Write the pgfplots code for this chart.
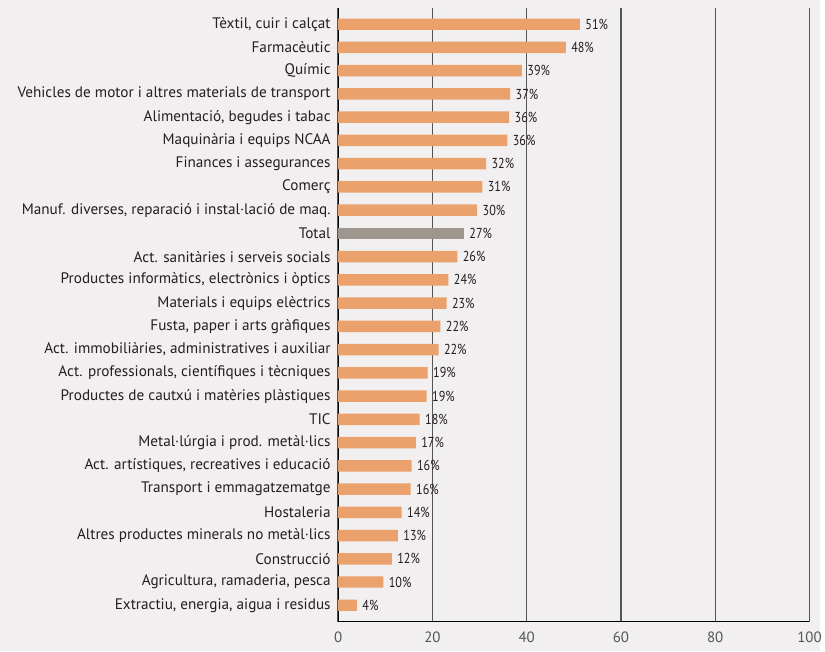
\documentclass[border=0pt]{standalone}
\usepackage{pgfplots}
\pgfplotsset{compat=1.18}
\usepackage{pgfplotstable}
\usepackage{fontspec}
\setmainfont{PT Sans}
\newfontfamily\cond[FakeStretch=0.84]{PT Sans}
\definecolor{bg}{HTML}{F1EFF0}
\definecolor{barO}{HTML}{EBA16C}
\definecolor{barG}{HTML}{9E958D}
\definecolor{gridc}{HTML}{555555}
\definecolor{txt}{HTML}{231F20}

\pgfplotstableread[col sep=comma]{
y,x,lab
0,51.3,51
1,48.3,48
2,39.0,39
3,36.5,37
4,36.3,36
5,35.9,36
6,31.4,32
7,30.6,31
8,29.5,30
10,25.3,26
11,23.4,24
12,23.0,23
13,21.7,22
14,21.3,22
15,19.0,19
16,18.8,19
17,17.3,18
18,16.5,17
19,15.6,16
20,15.4,16
21,13.5,14
22,12.7,13
23,11.4,12
24,9.6,10
25,4.0,4
}\dataO
\pgfplotstableread[col sep=comma]{
y,x,lab
9,26.7,27
}\dataT

\begin{document}
\begin{tikzpicture}
\fill[bg] (-340pt,-30pt) rectangle (485pt,625pt);
\begin{axis}[
  at={(0,0)}, anchor=south west,
  scale only axis, width=474pt, height=617pt,
  xmin=0, xmax=100, ymin=-0.7, ymax=25.7,
  y dir=reverse,
  axis lines*=left,
  axis line style={black, line width=1pt},
  xtick={0,20,40,60,80,100},
  ytick={0,...,25},
  yticklabels={{Tèxtil, cuir i calçat},{Farmacèutic},{Químic},{Vehicles de motor i altres materials de transport},{Alimentació, begudes i tabac},{Maquinària i equips NCAA},{Finances i assegurances},{Comerç},{Manuf. diverses, reparació i instal·lació de maq.},{Total},{Act. sanitàries i serveis socials},{Productes informàtics, electrònics i òptics},{Materials i equips elèctrics},{Fusta, paper i arts gràfiques},{Act. immobiliàries, administratives i auxiliar},{Act. professionals, científiques i tècniques},{Productes de cautxú i matèries plàstiques},{TIC},{Metal·lúrgia i prod. metàl·lics},{Act. artístiques, recreatives i educació},{Transport i emmagatzematge},{Hostaleria},{Altres productes minerals no metàl·lics},{Construcció},{Agricultura, ramaderia, pesca},{Extractiu, energia, aigua i residus}},
  major tick length=0pt,
  xmajorgrids, major grid style={gridc, line width=1.4pt},
  /pgf/number format/assume math mode=true,
  yticklabel style={font=\fontsize{15.3}{17}\selectfont, text=txt, xshift=-4pt},
  xticklabel style={font=\fontsize{15}{17}\selectfont, text=gridc, yshift=-7pt},
  clip=false,
]
\addplot[xbar, bar shift=0pt, bar width=11.5pt, fill=barO, draw=none,
  point meta=explicit symbolic,
  nodes near coords={\pgfplotspointmeta\%},
  every node near coord/.append style={font=\cond\fontsize{14.5}{16}\selectfont, text=txt, anchor=west, xshift=2pt}]
  table[x=x, y=y, meta=lab]{\dataO};
\addplot[xbar, bar shift=0pt, bar width=11.5pt, fill=barG, draw=none,
  point meta=explicit symbolic,
  nodes near coords={\pgfplotspointmeta\%},
  every node near coord/.append style={font=\cond\fontsize{14.5}{16}\selectfont, text=txt, anchor=west, xshift=2pt}]
  table[x=x, y=y, meta=lab]{\dataT};
\end{axis}
\end{tikzpicture}
\end{document}
